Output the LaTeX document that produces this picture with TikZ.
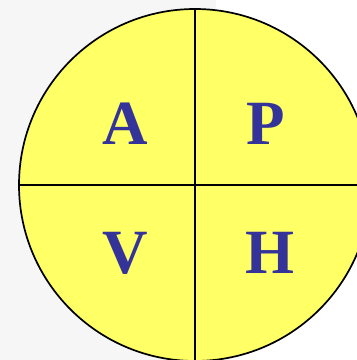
\documentclass[tikz,border=0pt]{standalone}
\usepackage{fontspec}
\setmainfont{Liberation Serif}
\definecolor{bggray}{HTML}{F6F6F6}
\definecolor{pieyellow}{HTML}{FFFF66}
\definecolor{letterblue}{HTML}{333399}
\begin{document}
\begin{tikzpicture}[x=1pt,y=-1pt,
  letter/.style={anchor=base,text=letterblue,inner sep=0pt,font=\fontsize{63}{63}\selectfont\bfseries},
  divider/.style={draw=black,line width=1.8pt}]
\useasboundingbox (0,0) rectangle (357,360);
\fill[white] (0,0) rectangle (357,360);
\fill[bggray] (0,0) rectangle (216,360);
\node[circle,draw=black,line width=1.7pt,fill=pieyellow,minimum size=352pt,inner sep=0pt] (pie) at (195,185) {};
\draw[divider] (pie.north) -- (pie.south);
\draw[divider] (pie.west) -- (pie.east);
\node[letter] (a) at (125,144) {A};
\node[letter] (p) at (265.5,144) {P};
\node[letter] (v) at (125,273) {V};
\node[letter] (h) at (270,273) {H};
\end{tikzpicture}
\end{document}
